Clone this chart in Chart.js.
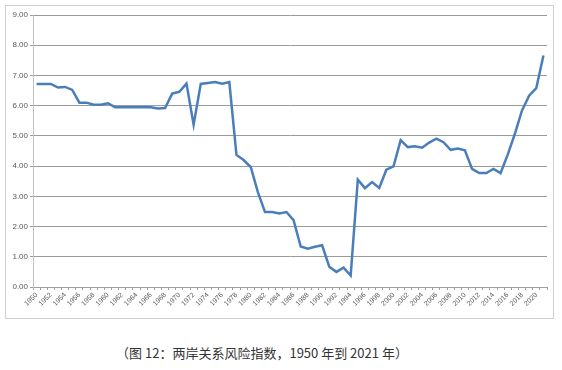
<!DOCTYPE html>
<html>
<head>
<meta charset="utf-8">
<script src="https://cdn.jsdelivr.net/npm/chart.js@4"></script>
<style>
  body { margin: 0; background: #fff; width: 562px; height: 370px; position: relative; overflow: hidden; }
  #frame { position: absolute; left: 5px; top: 5px; width: 547px; height: 312px; border: 1px solid #d0d0d0; }
  #caption { position: absolute; left: 0; width: 524px; top: 343px; text-align: center;
    font-family: "Noto Sans CJK SC", "Noto Sans", sans-serif; font-size: 13px; color: #333; }
</style>
</head>
<body>
<div id="frame"><canvas id="myChart"></canvas></div>
<div id="caption">（图 12：两岸关系风险指数，1950 年到 2021 年）</div>
<script>
const years = [];
for (let y = 1950; y <= 2021; y++) years.push(String(y));

const riskIndex = [
  6.72, 6.72, 6.72, 6.60, 6.62, 6.52, 6.10, 6.10, 6.03, 6.03,
  6.08, 5.95, 5.95, 5.95, 5.95, 5.95, 5.95, 5.91, 5.92, 6.40,
  6.46, 6.73, 5.37, 6.72, 6.75, 6.78, 6.73, 6.78, 4.37, 4.20,
  3.97, 3.14, 2.48, 2.48, 2.43, 2.48, 2.21, 1.34, 1.27, 1.33,
  1.38, 0.67, 0.50, 0.64, 0.38, 3.55, 3.27, 3.47, 3.28, 3.88,
  3.99, 4.86, 4.63, 4.66, 4.61, 4.78, 4.91, 4.79, 4.54, 4.58,
  4.52, 3.91, 3.77, 3.77, 3.91, 3.77, 4.38, 5.07, 5.84, 6.33,
  6.58, 7.66
];

const yMin = 0, yMax = 9, yStep = 1;

const tickFont = { family: '"Liberation Sans", Arial, sans-serif', size: 8 };

new Chart(document.getElementById('myChart'), {
  type: 'line',
  data: {
    labels: years,
    datasets: [{
      data: riskIndex,
      borderColor: '#4a7ebb',
      borderWidth: 2.5,
      pointRadius: 0,
      tension: 0,
      fill: false
    }]
  },
  options: {
    animation: false,
    responsive: true,
    maintainAspectRatio: false,
    layout: { padding: { top: 9, right: 6, left: 0, bottom: 0 } },
    plugins: { legend: { display: false }, tooltip: { enabled: false } },
    scales: {
      x: {
        offset: true,
        grid: { offset: true, drawOnChartArea: false, drawTicks: true, tickLength: 3, color: '#a0a0a0' },
        border: { color: '#a0a0a0' },
        ticks: {
          autoSkip: false,
          minRotation: 45,
          maxRotation: 45,
          padding: 1,
          color: '#595959',
          font: { family: tickFont.family, size: 7 },
          callback: function (val, i) { return i % 2 === 0 ? this.getLabelForValue(val) : ''; }
        },
        afterFit: (scale) => { scale.height = 31; }
      },
      y: {
        min: yMin,
        max: yMax,
        grid: { color: '#9a9a9a', drawTicks: true, tickLength: 3 },
        border: { color: '#bfbfbf' },
        ticks: {
          stepSize: yStep,
          padding: 2,
          color: '#595959',
          font: tickFont,
          callback: (v) => v.toFixed(2)
        },
        afterFit: (scale) => { scale.width = 27; }
      }
    }
  }
});
</script>
</body>
</html>
